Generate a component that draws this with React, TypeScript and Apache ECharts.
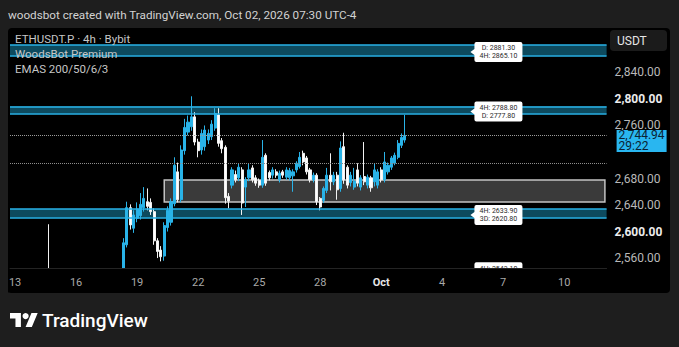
import React, { useEffect, useRef } from 'react';
import * as echarts from 'echarts';

// ---------- data ----------
const startUtc = Date.UTC(2026, 8, 12, 20); // first 4h slot
const slotCount = 176;
const pad = (n: number) => String(n).padStart(2, '0');
const categories: string[] = [];
for (let k = 0; k < slotCount; k++) {
  const d = new Date(startUtc + k * 4 * 3600 * 1000);
  categories.push(`${pad(d.getUTCMonth() + 1)}-${pad(d.getUTCDate())} ${pad(d.getUTCHours())}:00`);
}

const tickCats = ['09-13 00:00', '09-16 00:00', '09-19 00:00', '09-22 00:00', '09-25 00:00', '09-28 00:00', '10-01 00:00', '10-04 00:00', '10-07 00:00', '10-10 00:00'];
const tickLabels = ['13', '16', '19', '22', '25', '28', 'Oct', '4', '7', '10'];

const priceMin = 2545;
const priceMax = 2904;
const priceTicks = [2560, 2600, 2640, 2680, 2760, 2800, 2840];
const boldTicks = [2600, 2800];

// [open, close, low, high]
const candles: number[][] = [
  [2528, 2524, 2516, 2534], [2524, 2530, 2518, 2536], [2530, 2526, 2519, 2537], [2526, 2533, 2521, 2539],
  [2533, 2527, 2520, 2540], [2527, 2534, 2522, 2541], [2534, 2529, 2523, 2540], [2529, 2536, 2524, 2542],
  [2536, 2531, 2525, 2542], [2531, 2537, 2526, 2543], [2537, 2533, 2527, 2544],
  [2538, 2522, 2515, 2611],
  [2522, 2518, 2513, 2527], [2518, 2524, 2514, 2529], [2524, 2519, 2513, 2528], [2519, 2526, 2514, 2531],
  [2526, 2520, 2514, 2530], [2520, 2516, 2512, 2525], [2516, 2523, 2513, 2528], [2523, 2519, 2514, 2529],
  [2519, 2527, 2515, 2532], [2527, 2522, 2516, 2531], [2522, 2529, 2518, 2534], [2529, 2524, 2519, 2535],
  [2524, 2531, 2520, 2537], [2531, 2526, 2521, 2538], [2526, 2533, 2522, 2539], [2533, 2528, 2523, 2540],
  [2528, 2535, 2524, 2541], [2535, 2530, 2525, 2542], [2530, 2536, 2526, 2543], [2536, 2532, 2527, 2543],
  [2532, 2524, 2518, 2540],
  [2522, 2583, 2514, 2590], [2580, 2636, 2576, 2645], [2636, 2610, 2603, 2641], [2605, 2625, 2598, 2632],
  [2620, 2634, 2614, 2644], [2624, 2641, 2618, 2658], [2636, 2650, 2630, 2667], [2645, 2638, 2632, 2665],
  [2644, 2630, 2625, 2650], [2630, 2586, 2580, 2635], [2586, 2570, 2560, 2590], [2572, 2562, 2555, 2578],
  [2563, 2609, 2556, 2614], [2606, 2632, 2600, 2638], [2614, 2645, 2609, 2650], [2642, 2700, 2638, 2712],
  [2690, 2648, 2644, 2704], [2648, 2723, 2644, 2730], [2722, 2757, 2716, 2770], [2750, 2765, 2745, 2775],
  [2758, 2773, 2752, 2804], [2773, 2735, 2730, 2780], [2735, 2722, 2712, 2740], [2723, 2748, 2716, 2754],
  [2728, 2753, 2722, 2760], [2738, 2748, 2732, 2754], [2743, 2762, 2738, 2768], [2756, 2778, 2752, 2786],
  [2776, 2733, 2728, 2786], [2737, 2725, 2718, 2741], [2727, 2651, 2642, 2730], [2653, 2646, 2635, 2658],
  [2670, 2693, 2665, 2697], [2686, 2678, 2674, 2692], [2681, 2697, 2676, 2703], [2693, 2643, 2625, 2697],
  [2667, 2678, 2637, 2682], [2681, 2693, 2676, 2703], [2696, 2678, 2674, 2700], [2681, 2673, 2669, 2685],
  [2677, 2670, 2666, 2680], [2670, 2712, 2666, 2738], [2715, 2673, 2669, 2718], [2689, 2681, 2677, 2692],
  [2685, 2693, 2680, 2697], [2690, 2685, 2681, 2694], [2678, 2688, 2674, 2692], [2690, 2685, 2681, 2693],
  [2682, 2693, 2678, 2697], [2681, 2692, 2677, 2696], [2684, 2690, 2660, 2694], [2693, 2703, 2689, 2706],
  [2698, 2712, 2695, 2720], [2718, 2705, 2700, 2722], [2711, 2690, 2686, 2714], [2693, 2678, 2674, 2696],
  [2678, 2685, 2674, 2689], [2685, 2645, 2640, 2688], [2650, 2637, 2632, 2652], [2647, 2665, 2643, 2668],
  [2662, 2685, 2658, 2696], [2685, 2675, 2662, 2718], [2675, 2685, 2670, 2690], [2685, 2663, 2648, 2690],
  [2665, 2726, 2660, 2736], [2728, 2678, 2672, 2749], [2697, 2670, 2665, 2700], [2674, 2685, 2668, 2690],
  [2667, 2676, 2663, 2696], [2693, 2673, 2668, 2703], [2667, 2681, 2662, 2685], [2683, 2675, 2670, 2735],
  [2670, 2682, 2665, 2686], [2681, 2666, 2660, 2684], [2675, 2693, 2668, 2703], [2670, 2690, 2665, 2694],
  [2693, 2678, 2674, 2697], [2678, 2705, 2674, 2720], [2690, 2700, 2686, 2704], [2697, 2711, 2693, 2714],
  [2703, 2715, 2700, 2719], [2712, 2733, 2709, 2738], [2730, 2742, 2726, 2748], [2738, 2744.94, 2734, 2776],
];

const zoneUpper = [2881.3, 2788.8, 2633.9];
const zoneUpperTf = ['D', '4H', '4H'];
const zoneLower = [2865.1, 2777.8, 2620.8];
const zoneLowerTf = ['4H', 'D', '3D'];
const lowLevel = 2543.1;
const lowLevelTf = '4H';

const boxTop = 2677.7;
const boxBottom = 2644.5;
const boxStartCat = '09-20 08:00';

const lastPrice = 2744.94;
const countdown = '29:22';
const refLine = 2703.4;

const headerText = 'woodsbot created with TradingView.com, Oct 02, 2026 07:30 UTC-4';
const legendLines = ['ETHUSDT.P · 4h · Bybit', 'WoodsBot Premium', 'EMAS 200/50/6/3'];

// ---------- helpers ----------
const fmt = (v: number) => v.toLocaleString('en-US', { minimumFractionDigits: 2, maximumFractionDigits: 2 });
const lvl = (tf: string, v: number) => `${tf}: ${v.toFixed(2)}`;

echarts.graphic.registerShape(
  'tvlogo',
  echarts.graphic.extendPath('M14 22H7V11H0V4h14v18zM28 22h-8l7.5-18h8L28 22z', {})
);

const CYAN = '#29b3e8';
const FONT = 'Roboto';
const labelSymbol = 'path://M6,0L50,0Q52,0,52,2L52,18Q52,20,50,20L6,20Q4,20,4,18L4,13L0,10L4,7L4,2Q4,0,6,0Z';
const labelAnchorCat = categories[143];

export default function App() {
  const ref = useRef<HTMLDivElement>(null);
  useEffect(() => {
    if (!ref.current) return;
    const chart = echarts.init(ref.current, undefined, { renderer: 'svg' });

    const zoneLines: any[] = [];
    zoneUpper.forEach((v, i) => {
      zoneLines.push({ yAxis: v, lineStyle: { color: CYAN, width: 1.6, type: 'solid' } });
      zoneLines.push({ yAxis: zoneLower[i], lineStyle: { color: CYAN, width: 1.6, type: 'solid' } });
    });

    const zoneAreas = zoneUpper.map((v, i) => [
      { yAxis: v, itemStyle: { color: '#0d4a5e' } },
      { yAxis: zoneLower[i] },
    ]);

    const labelPoints: any[] = zoneUpper.map((v, i) => ({
      coord: [labelAnchorCat, (v + zoneLower[i]) / 2],
      name: `${lvl(zoneUpperTf[i], v)}\n${lvl(zoneLowerTf[i], zoneLower[i])}`,
      symbolOffset: [0, 1.5],
    }));
    // the low level sits just under the visible range: anchor at the range edge, shift down
    labelPoints.push({
      coord: [labelAnchorCat, Math.max(lowLevel, priceMin + 0.5)],
      name: lvl(lowLevelTf, lowLevel),
      symbolOffset: [0, 4.5],
      label: { offset: [2, -3] },
    });

    const option: any = {
      animation: false,
      backgroundColor: '#1e1e1e',
      textStyle: { fontFamily: FONT },
      grid: { left: 10, top: 30, width: 596.6, height: 238 },
      xAxis: {
        type: 'category',
        data: categories,
        boundaryGap: true,
        z: 10,
        axisLine: { show: true, lineStyle: { color: '#242424' } },
        axisTick: { show: false },
        splitLine: { show: false },
        axisLabel: {
          interval: (_i: number, v: string) => tickCats.includes(v),
          formatter: (v: string) => {
            const t = tickLabels[tickCats.indexOf(v)];
            return t === 'Oct' ? `{b|${t}}` : `{n|${t}}`;
          },
          margin: 9,
          rich: {
            n: { color: '#a9a9a9', fontSize: 11, fontFamily: FONT },
            b: { color: '#e6e6e6', fontSize: 11, fontWeight: 'bold', fontFamily: FONT },
          },
        },
      },
      yAxis: {
        type: 'value',
        position: 'right',
        min: priceMin,
        max: priceMax,
        axisLine: { show: false },
        axisTick: { show: false },
        splitLine: { show: false },
        axisLabel: {
          customValues: priceTicks,
          margin: 8,
          formatter: (v: number) => (boldTicks.includes(v) ? `{b|${fmt(v)}}` : `{n|${fmt(v)}}`),
          rich: {
            n: { color: '#b9b9b9', fontSize: 12, fontFamily: FONT },
            b: { color: '#ececec', fontSize: 12, fontWeight: 'bold', fontFamily: FONT },
          },
        },
      },
      series: [
        {
          type: 'candlestick',
          data: candles,
          barWidth: 2.6,
          clip: true,
          itemStyle: {
            color: CYAN,
            color0: '#ffffff',
            borderColor: CYAN,
            borderColor0: '#f2f2f2',
            borderWidth: 1,
          },
          markArea: {
            silent: true,
            data: [
              ...zoneAreas,
              [
                { xAxis: boxStartCat, yAxis: boxTop, itemStyle: { color: '#3a3a3a', borderColor: '#c4c4c4', borderWidth: 1.5 } },
                { xAxis: categories[slotCount - 1], yAxis: boxBottom },
              ],
            ],
          },
          markLine: {
            silent: true,
            symbol: ['none', 'none'],
            label: { show: false },
            data: [
              ...zoneLines,
              { yAxis: refLine, lineStyle: { color: '#8e8e8e', type: 'dotted', width: 1 } },
              {
                yAxis: lastPrice,
                lineStyle: { color: '#9c9c9c', type: 'dotted', width: 1 },
                label: {
                  show: true,
                  position: 'end',
                  distance: 10,
                  offset: [0, 5.5],
                  lineHeight: 11,
                  formatter: () => `{p|${fmt(lastPrice)}}\n{p|${countdown}}`,
                  backgroundColor: '#29b6f0',
                  padding: [0, 2, 0, 2],
                  rich: { p: { color: '#0b2232', fontSize: 12, lineHeight: 11, fontFamily: FONT } },
                },
              },
            ],
          },
          markPoint: {
            silent: true,
            symbol: labelSymbol,
            symbolSize: [52, 20],
            symbolKeepAspect: false,
            itemStyle: { color: '#ffffff' },
            label: {
              show: true,
              position: 'inside',
              formatter: '{b}',
              color: '#2a2a2a',
              fontSize: 7,
              lineHeight: 8,
              offset: [2, 0],
              fontFamily: FONT,
            },
            data: labelPoints,
          },
        },
      ],
      graphic: [
        { type: 'rect', z: -10, shape: { x: 8, y: 28, width: 662, height: 265, r: 4 }, style: { fill: '#000000' } },
        { type: 'rect', z: 8, shape: { x: 8, y: 268.5, width: 600, height: 24 }, style: { fill: '#000000' } },
        { type: 'text', z: 20, x: 8, y: 15, style: { text: headerText, fill: '#d2d2d2', fontSize: 11.7, fontFamily: FONT, verticalAlign: 'middle' } },
        ...legendLines.map((t, i) => ({
          type: 'text', z: 20, x: 15, y: 39 + i * 15,
          style: { text: t, fill: '#c6c6c6', fontSize: 11.5, fontFamily: FONT, verticalAlign: 'middle' },
        })),
        { type: 'rect', z: 20, shape: { x: 610, y: 30, width: 57, height: 21, r: 4 }, style: { fill: '#1b1b1b' } },
        { type: 'text', z: 21, x: 617, y: 40.5, style: { text: 'USDT', fill: '#e6e6e6', fontSize: 12, fontFamily: FONT, verticalAlign: 'middle' } },
        { type: 'tvlogo', z: 20, x: 10, y: 309.9, scaleX: 0.78, scaleY: 0.78, style: { fill: '#ffffff' } },
        { type: 'circle', z: 20, shape: { cx: 25.6, cy: 316.1, r: 3.1 }, style: { fill: '#ffffff' } },
        { type: 'text', z: 20, x: 42, y: 320, style: { text: 'TradingView', fill: '#ffffff', fontSize: 19, fontWeight: 500, fontFamily: FONT, verticalAlign: 'middle' } },
      ],
    };

    chart.setOption(option);
    return () => chart.dispose();
  }, []);

  return <div ref={ref} style={{ position: 'fixed', left: 0, top: 0, width: 679, height: 347 }} />;
}
